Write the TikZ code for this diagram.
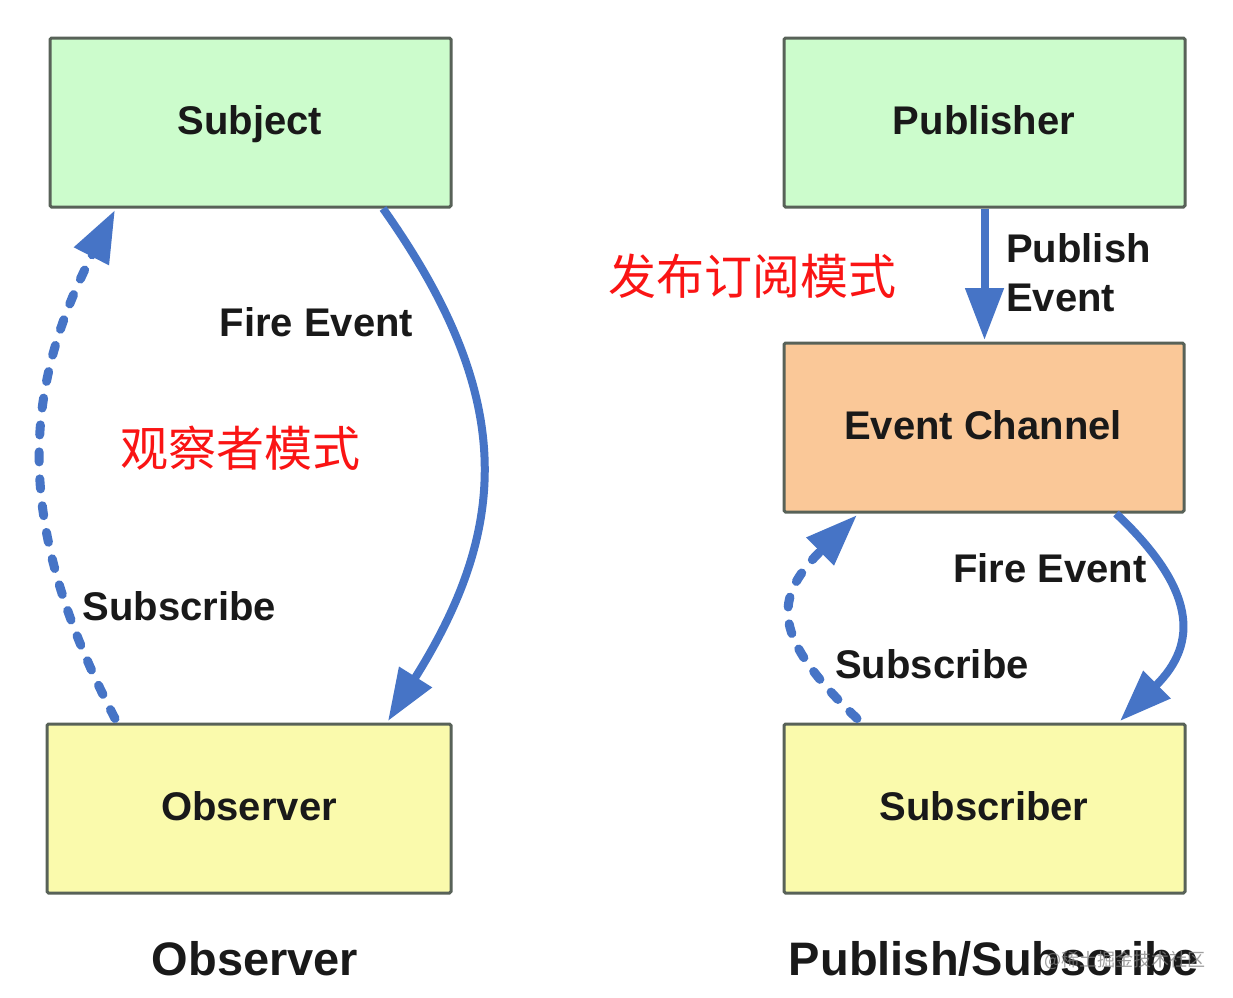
\documentclass[tikz,border=0pt]{standalone}
\usepackage{fontspec}
\setmainfont{Liberation Sans}
\newfontfamily\cjk{Noto Sans CJK SC}
\usetikzlibrary{arrows.meta}
\definecolor{arrowblue}{RGB}{70,116,198}
\definecolor{boxline}{RGB}{88,98,88}
\definecolor{greenfill}{RGB}{204,252,204}
\definecolor{yellowfill}{RGB}{250,250,172}
\definecolor{orangefill}{RGB}{250,200,152}
\definecolor{labeltext}{RGB}{25,25,25}
\definecolor{cnred}{RGB}{250,20,20}
\tikzset{
  boxnode/.style={draw=boxline, line width=3pt, rounded corners=1.5pt,
    minimum width=401pt, minimum height=169pt, inner sep=0pt},
  lbl/.style={font=\bfseries\fontsize{40}{42}\selectfont, text=labeltext, inner sep=0pt, anchor=base},
  biglbl/.style={font=\bfseries\fontsize{47}{49}\selectfont, text=labeltext, inner sep=0pt, anchor=base},
  cnlbl/.style={font=\cjk\fontsize{48}{50}\selectfont, text=cnred, inner sep=0pt},
  solidarrow/.style={draw=arrowblue, line width=8pt, -{Triangle[width=37pt,length=52pt]}},
  dasharrow/.style={draw=arrowblue, line width=9pt, line cap=round,
    dash pattern=on 10pt off 17pt, -{Triangle[width=37pt,length=52pt]}}
}
\begin{document}
\begin{tikzpicture}[x=1pt,y=-1pt]
\useasboundingbox[fill=white] (0,0) rectangle (1233,997);

% boxes
\node[boxnode, fill=greenfill] (subject) at (250.5,122.5) {};
\node[boxnode, fill=yellowfill, minimum width=404pt] (observer) at (249,808.5) {};
\node[boxnode, fill=greenfill] (publisher) at (984.5,122.5) {};
\node[boxnode, fill=orangefill, minimum width=400pt] (channel) at (984,427.5) {};
\node[boxnode, fill=yellowfill] (subscriber) at (984.5,808.5) {};

% box texts
\node[lbl] (tsubject) at (250,134) {Subject};
\node[lbl] (tobserver) at (249,820) {Observer};
\node[lbl] (tpublisher) at (984,134) {Publisher};
\node[lbl] (tchannel) at (983,439) {Event Channel};
\node[lbl] (tsubscriber) at (984,820) {Subscriber};

% connectors, observer
\draw[solidarrow] ([xshift=132.5pt]subject.south) .. controls (515,395) and (511,525) .. ([xshift=139pt,yshift=1.5pt]observer.north);
\draw[dasharrow] ([xshift=-134pt,yshift=4pt]observer.north) .. controls (18,531) and (18,400) .. ([xshift=-135.5pt,yshift=-1.5pt]subject.south);

% connectors, publish/subscribe
\draw[solidarrow] (publisher.south) -- ([yshift=1.5pt]publisher.south |- channel.north);
\draw[solidarrow] ([xshift=132pt]channel.south) .. controls (1196,589) and (1199,643) .. ([xshift=135.5pt,yshift=1.5pt]subscriber.north);
\draw[dasharrow] ([xshift=-127.5pt,yshift=4pt]subscriber.north) .. controls (772,637) and (772,599) .. ([xshift=-127pt,yshift=-1.5pt]channel.south);

% labels
\node[lbl] (fire1) at (316.5,336) {Fire Event};
\node[lbl] (sub1) at (179.5,620) {Subscribe};
\node[cnlbl] (cn1) at (240,448) {观察者模式};
\node[cnlbl] (cn2) at (752,276) {发布订阅模式};
\node[lbl, anchor=base west] (pub1) at (1006,262) {Publish};
\node[lbl, anchor=base west] (pub2) at (1006,311) {Event};
\node[lbl] (fire2) at (1050,582) {Fire Event};
\node[lbl] (sub2) at (932,678) {Subscribe};

% captions
\node[biglbl] (cap1) at (255,975) {Observer};
\node[biglbl] (cap2) at (994,975) {Publish/Subscribe};
\node[font=\cjk\fontsize{18}{20}\selectfont, text=gray, opacity=0.75, inner sep=0pt] (wm) at (1125,960) {@稀土掘金技术社区};
\end{tikzpicture}
\end{document}
